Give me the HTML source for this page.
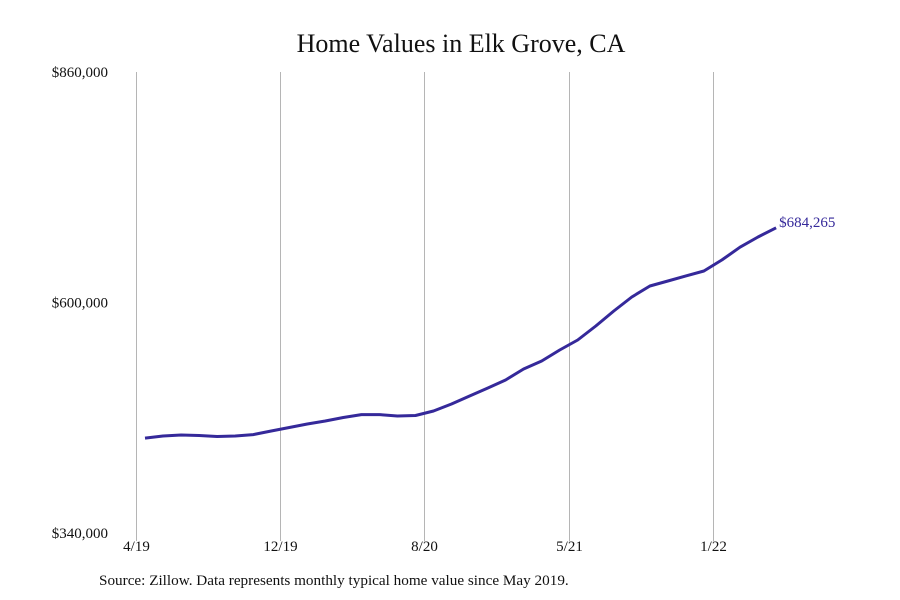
<!DOCTYPE html>
<html><head><meta charset="utf-8">
<style>
html,body{margin:0;padding:0;background:#fff;}
svg{display:block;font-family:"Liberation Serif",serif;}
</style></head>
<body>
<svg id="chart" width="900" height="600">
<text x="461" y="52" text-anchor="middle" font-size="26" fill="#111">Home Values in Elk Grove, CA</text>
<g id="grid"></g>
<g id="yticks"></g>
<g id="xticks"></g>
<path id="line" fill="none" stroke="#35299a" stroke-width="3" stroke-linejoin="round"></path>
<text id="endlabel" font-size="15" fill="#35299a"></text>
<text x="99" y="585" font-size="15.2" fill="#111">Source: Zillow. Data represents monthly typical home value since May 2019.</text>
</svg>
<script>
const values = [447100,449400,450500,450000,448800,449400,451000,455000,459000,463000,466300,470300,473600,473600,472000,472500,477600,485500,494500,503500,512600,525000,534000,546400,557700,573500,590400,606200,618600,624200,630000,635500,648000,662400,673900,684265];
const xTickLabels = ["4/19","12/19","8/20","5/21","1/22"];
const xTickMonths = [0,8,16,24,32];
const yTickValues = [340000,600000,860000];
const yTickLabels = ["$340,000","$600,000","$860,000"];
const endLabel = "$684,265";

const NS="http://www.w3.org/2000/svg";
const x0=136, pxPerMonth=18.03;
const xs=m=>x0+m*pxPerMonth;
const yMin=340000,yMax=860000,yTop=72,yBot=533;
const ys=v=>yBot-(v-yMin)/(yMax-yMin)*(yBot-yTop);

const grid=document.getElementById('grid'), xt=document.getElementById('xticks'), yt=document.getElementById('yticks');
xTickMonths.forEach((m,i)=>{
  const x=Math.round(xs(m))+0.5;
  const l=document.createElementNS(NS,'line');
  l.setAttribute('x1',x);l.setAttribute('x2',x);l.setAttribute('y1',yTop);l.setAttribute('y2',yBot+8);
  l.setAttribute('stroke','#b5b5b5');l.setAttribute('stroke-width','1');
  
  
  grid.appendChild(l);
  const t=document.createElementNS(NS,'text');
  t.setAttribute('x',x);t.setAttribute('y',551);t.setAttribute('text-anchor','middle');
  t.setAttribute('font-size','15');t.setAttribute('fill','#111');
  t.textContent=xTickLabels[i];
  
  
  xt.appendChild(t);
});
yTickValues.forEach((v,i)=>{
  const t=document.createElementNS(NS,'text');
  t.setAttribute('x',108);t.setAttribute('y',ys(v)+5);t.setAttribute('text-anchor','end');
  t.setAttribute('font-size','15');t.setAttribute('fill','#111');
  t.textContent=yTickLabels[i];
  
  
  yt.appendChild(t);
});
let d='';
values.forEach((v,i)=>{d+=(i?'L':'M')+xs(i+0.5).toFixed(1)+','+ys(v).toFixed(1);});
document.getElementById('line').setAttribute('d',d);
const last=values.length-1;
const el=document.getElementById('endlabel');
el.setAttribute('x',xs(last+0.5)+3);el.setAttribute('y',ys(values[last])-1);
el.textContent=endLabel;
</script>
</body></html>
